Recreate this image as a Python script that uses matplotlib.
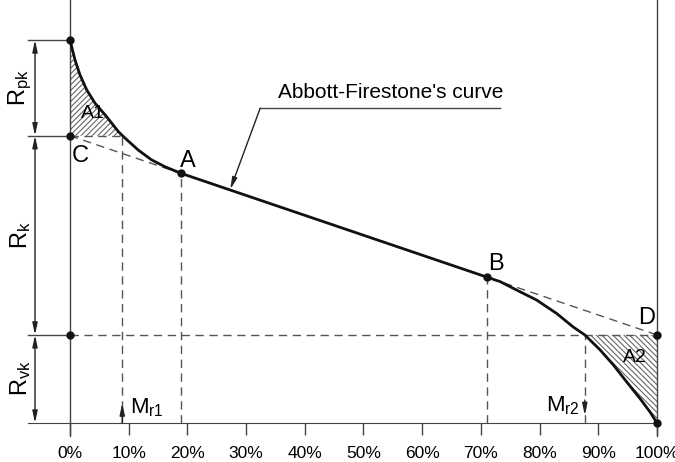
import matplotlib.pyplot as plt
import numpy as np

plt.rcParams['font.family'] = ['Liberation Sans', 'DejaVu Sans']

# material ratio (%) and height values
upper_x = [0, 0.85, 1.7, 2.84, 4.26, 5.96, 8.23, 9.37, 11.6, 13.9, 16.2, 18.9]
upper_y = [100, 94.8, 90.9, 87.0, 83.5, 80.5, 76.1, 74.4, 71.3, 68.7, 66.9, 65.2]
core_x = [18.9, 71.0]
core_y = [65.2, 38.1]
lower_x = [71.0, 73.3, 76.1, 79.5, 82.9, 85.7, 87.7, 90.3, 92.6, 94.8, 97.1, 98.8, 100]
lower_y = [38.1, 36.9, 34.7, 32.1, 28.6, 25.1, 23.0, 19.1, 15.1, 10.8, 6.4, 2.9, 0]

top_level = 100
c_level = 75      # C
d_level = 23      # D
mr1 = 8.9
mr2 = 87.7
a_pt = (18.9, 65.2)
b_pt = (71.0, 38.1)

ticks = np.arange(0, 101, 10)
tick_labels = [f"{t}%" for t in ticks]

fig = plt.figure(figsize=(6.75, 4.62), dpi=100)
ax = fig.add_axes([0, 0, 1, 1])
ax.set_xlim(-70 / 5.87, 605 / 5.87)
ax.set_ylim(-39 / 3.83, 423 / 3.83)

thin = '#444444'
dash = dict(color='#555555', lw=1, dashes=(6, 4))

# frame lines
ax.plot([0, 0], [-3.4, 120], color=thin, lw=1)
ax.plot([100, 100], [-3.4, 120], color=thin, lw=1)
for lev in [top_level, c_level, d_level]:
    ax.plot([-7.15, 0], [lev, lev], color=thin, lw=1)

# dashed helper lines
ax.plot([0, 100], [c_level, d_level], **dash)
ax.plot([0, mr1], [c_level, c_level], **dash)
ax.plot([0, 100], [d_level, d_level], **dash)
ax.plot([mr1, mr1], [0, c_level], **dash)
ax.plot([a_pt[0], a_pt[0]], [0, a_pt[1]], **dash)
ax.plot([b_pt[0], b_pt[0]], [0, b_pt[1]], **dash)
ax.plot([mr2, mr2], [0, d_level], **dash)

# hatched areas
plt.rcParams['hatch.linewidth'] = 0.8
ux = np.array(upper_x)
uy = np.array(upper_y)
ax.fill_between(ux, uy, c_level, where=uy >= c_level, interpolate=True,
                facecolor='none', edgecolor='#666666', hatch='//////', lw=0)
lx = np.array(lower_x)
ly = np.array(lower_y)
ax.fill_between(lx, ly, d_level, where=ly <= d_level, interpolate=True,
                facecolor='none', edgecolor='#666666', hatch='\\\\\\\\\\\\', lw=0)

# Abbott-Firestone curve
ax.plot(upper_x, upper_y, color='#111111', lw=2)
ax.plot(core_x, core_y, color='#111111', lw=2)
ax.plot(lower_x, lower_y, color='#111111', lw=2)

ax.plot([0, 0, a_pt[0], b_pt[0], 100, 0, 100],
        [top_level, c_level, a_pt[1], b_pt[1], d_level, d_level, 0],
        'o', ms=5, color='#111111', zorder=5)

# dimension arrows on the left
arr = dict(arrowstyle='<|-|>,head_length=0.7,head_width=0.15', color='#222222',
           lw=1, shrinkA=0, shrinkB=0)
for lo, hi in [(c_level, top_level), (d_level, c_level), (0, d_level)]:
    ax.annotate('', xy=(-5.96, hi), xytext=(-5.96, lo), arrowprops=arr)

ax.text(-8.4, 87.5, r'$\mathregular{R_{pk}}$', rotation=90, fontsize=17,
        ha='center', va='center')
ax.text(-8.4, 49.1, r'$\mathregular{R_{k}}$', rotation=90, fontsize=17,
        ha='center', va='center')
ax.text(-8.4, 11.7, r'$\mathregular{R_{vk}}$', rotation=90, fontsize=17,
        ha='center', va='center')

# Mr arrows
small = dict(arrowstyle='-|>,head_length=0.7,head_width=0.15', color='#222222',
             lw=1, shrinkA=0, shrinkB=0)
ax.annotate('', xy=(mr1, 5.2), xytext=(mr1, 0), arrowprops=small)
ax.annotate('', xy=(mr2, 2.0), xytext=(mr2, 6.0), arrowprops=small)
ax.text(10.2, 2.6, r'$\mathregular{M_{r1}}$', fontsize=16, ha='left', va='baseline')
ax.text(86.9, 2.9, r'$\mathregular{M_{r2}}$', fontsize=16, ha='right', va='baseline')

# point labels
ax.text(1.7, 69.7, 'C', fontsize=17, ha='center', va='center')
ax.text(20.1, 68.4, 'A', fontsize=17, ha='center', va='center')
ax.text(72.6, 41.5, 'B', fontsize=17, ha='center', va='center')
ax.text(98.3, 27.4, 'D', fontsize=17, ha='center', va='center')
ax.text(3.9, 80.9, 'A1', fontsize=14, ha='center', va='center')
ax.text(96.3, 17.0, 'A2', fontsize=14, ha='center', va='center')

# curve callout
ax.text(35.4, 84.9, "Abbott-Firestone's curve", fontsize=15, ha='left',
        va='baseline')
ax.plot([32.4, 73.3], [82.2, 82.2], color=thin, lw=1)
ax.annotate('', xy=(27.3, 61.0), xytext=(32.4, 82.2), arrowprops=small)

# x axis
for s in ['top', 'right', 'left']:
    ax.spines[s].set_visible(False)
ax.spines['bottom'].set_position(('data', 0))
ax.spines['bottom'].set_bounds(-7.15, 100)
ax.spines['bottom'].set_color(thin)
ax.set_xticks(ticks)
ax.set_xticklabels(tick_labels)
ax.set_yticks([])
ax.tick_params(axis='x', direction='out', length=8.5, width=1, color=thin,
               pad=8, labelsize=12.5)

fig.savefig('out.png', dpi=100)
